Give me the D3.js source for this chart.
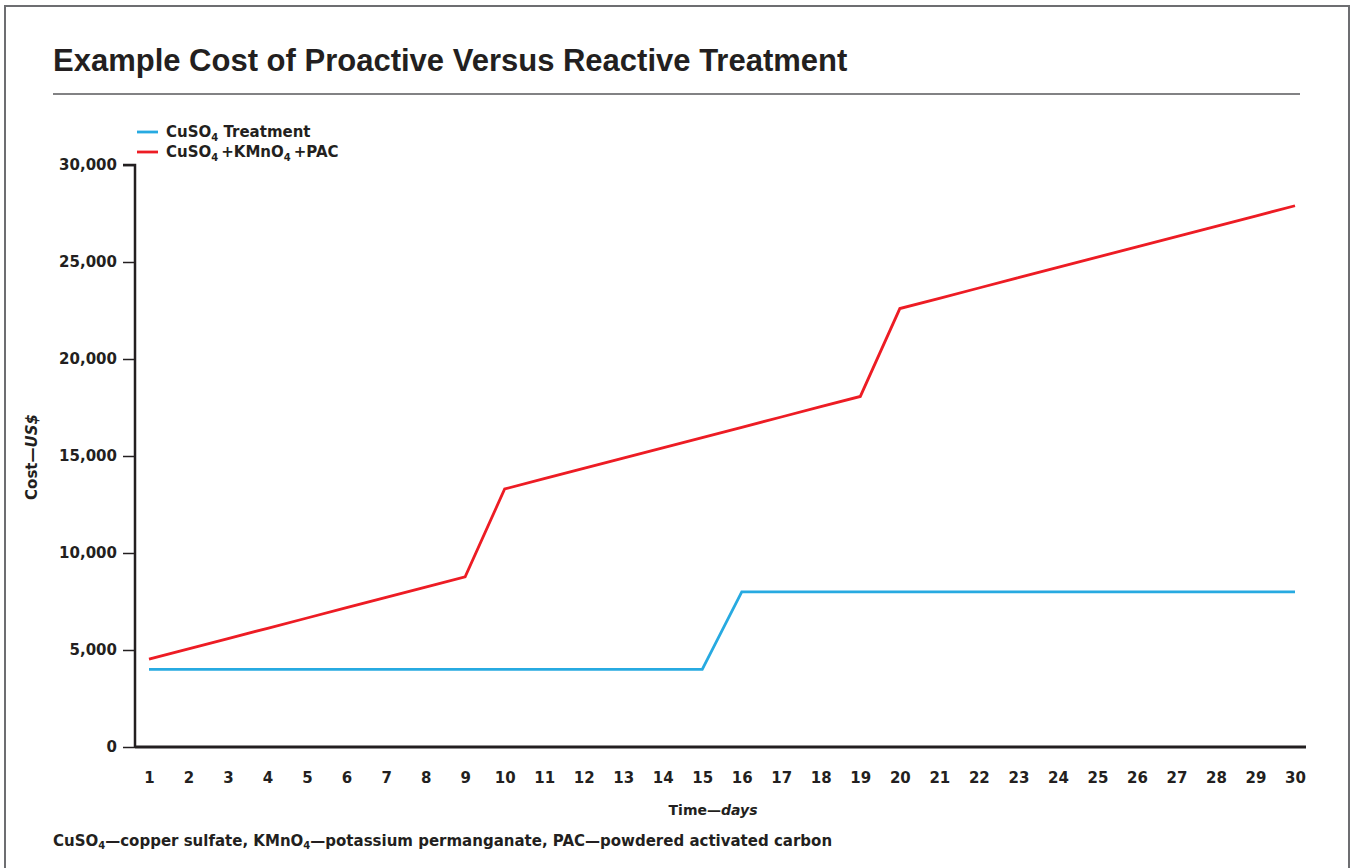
<!DOCTYPE html>
<html>
<head>
<meta charset="utf-8">
<script src="https://cdn.jsdelivr.net/npm/d3@7"></script>
<style>
  html, body { margin: 0; padding: 0; background: #fff; }
  svg text { font-family: "DejaVu Sans", Verdana, sans-serif; fill: #231f20; font-weight: bold; }
</style>
</head>
<body>
<svg id="chart" width="1352" height="868"></svg>
<script>
// data
const days = d3.range(1, 31);
const cuso4Cost = [4000, 4000, 4000, 4000, 4000, 4000, 4000, 4000, 4000, 4000,
                   4000, 4000, 4000, 4000, 4000, 8000, 8000, 8000, 8000, 8000,
                   8000, 8000, 8000, 8000, 8000, 8000, 8000, 8000, 8000, 8000];
const comboCost = [4530, 5060, 5590, 6120, 6650, 7180, 7710, 8240, 8770, 13300,
                   13830, 14360, 14890, 15420, 15950, 16480, 17010, 17540, 18070, 22600,
                   23130, 23660, 24190, 24720, 25250, 25780, 26310, 26840, 27370, 27900];
const yTicks = [0, 5000, 10000, 15000, 20000, 25000, 30000];

const FONT = '"DejaVu Sans", Verdana, sans-serif';
const svg = d3.select('#chart');

// outer frame
svg.append('rect')
  .attr('x', 5).attr('y', 6).attr('width', 1344).attr('height', 880)
  .attr('fill', 'none').attr('stroke', '#6d6e71').attr('stroke-width', 2);

// title + rule
svg.append('text')
  .attr('x', 53).attr('y', 71)
  .style('font-family', '"Liberation Sans", Arial, sans-serif')
  .style('font-size', '31px')
  .text('Example Cost of Proactive Versus Reactive Treatment');

svg.append('line')
  .attr('x1', 53).attr('x2', 1300).attr('y1', 94).attr('y2', 94)
  .attr('stroke', '#58595b').attr('stroke-width', 1.5);

// scales
const x = d3.scaleLinear().domain([1, 30]).range([149, 1295]);
const y = d3.scaleLinear().domain([0, 30000]).range([747, 165]);

// y axis
const yAxis = svg.append('g')
  .attr('transform', 'translate(135,0)')
  .call(d3.axisLeft(y).tickValues(yTicks).tickSize(12).tickPadding(6).tickFormat(d3.format(',')));
yAxis.select('.domain').attr('d', `M-12,${y(30000)}H0V${y(0)}`).attr('stroke', '#231f20').attr('stroke-width', 2.5);
yAxis.selectAll('.tick line').attr('stroke', '#231f20').attr('stroke-width', 1.5);
yAxis.selectAll('.tick text').style('font-size', '15px').style('font-family', FONT).attr('fill', '#231f20');

// x axis (no tick marks)
const xAxis = svg.append('g')
  .attr('transform', 'translate(0,747)')
  .call(d3.axisBottom(x).tickValues(days).tickSize(0).tickPadding(25).tickFormat(d3.format('d')));
xAxis.select('.domain').attr('d', 'M135,0H1306').attr('stroke', '#231f20').attr('stroke-width', 3);
xAxis.selectAll('.tick text').style('font-size', '15px').style('font-family', FONT).attr('fill', '#231f20');

// lines
const line = d3.line().x((d, i) => x(days[i])).y(d => y(d));

svg.append('path')
  .datum(cuso4Cost)
  .attr('d', line)
  .attr('fill', 'none').attr('stroke', '#27aae1').attr('stroke-width', 2.8);

svg.append('path')
  .datum(comboCost)
  .attr('d', line)
  .attr('fill', 'none').attr('stroke', '#ed1c24').attr('stroke-width', 2.8);

// writes text parts, [string, kind] where kind 1 = subscript, 2 = italic
function richText(sel, parts, size, subSize, shift) {
  let prevSub = false;
  parts.forEach(p => {
    const isSub = p[1] === 1;
    let dy = 0;
    if (isSub && !prevSub) dy = shift;
    if (!isSub && prevSub) dy = -shift;
    sel.append('tspan')
      .attr('dy', dy)
      .style('font-size', (isSub ? subSize : size) + 'px')
      .style('font-style', p[1] === 2 ? 'italic' : null)
      .text(p[0]);
    prevSub = isSub;
  });
}

// legend
const legendItems = [
  { color: '#27aae1', y: 132, parts: [['CuSO', 0], ['4', 1], [' Treatment', 0]] },
  { color: '#ed1c24', y: 152, parts: [['CuSO', 0], ['4', 1], ['\u2009+KMnO', 0], ['4', 1], ['\u2009+PAC', 0]] }
];
legendItems.forEach(it => {
  svg.append('line')
    .attr('x1', 137).attr('x2', 158).attr('y1', it.y).attr('y2', it.y)
    .attr('stroke', it.color).attr('stroke-width', 2.8);
  const t = svg.append('text').attr('x', 166).attr('y', it.y + 5);
  richText(t, it.parts, 15, 10, 4);
});

// axis titles
const yt = svg.append('text')
  .attr('transform', 'translate(37,457) rotate(-90)')
  .attr('text-anchor', 'middle');
richText(yt, [['Cost\u2014', 0], ['US$', 2]], 15, 10, 3);

const xt = svg.append('text')
  .attr('x', 713).attr('y', 815)
  .attr('text-anchor', 'middle');
richText(xt, [['Time\u2014', 0], ['days', 2]], 14, 10, 3);

// footnote
const fn = svg.append('text').attr('x', 53).attr('y', 846);
richText(fn, [['CuSO', 0], ['4', 1], ['\u2014copper sulfate, KMnO', 0], ['4', 1],
              ['\u2014potassium permanganate, PAC\u2014powdered activated carbon', 0]], 15, 10, 3);
</script>
</body>
</html>
